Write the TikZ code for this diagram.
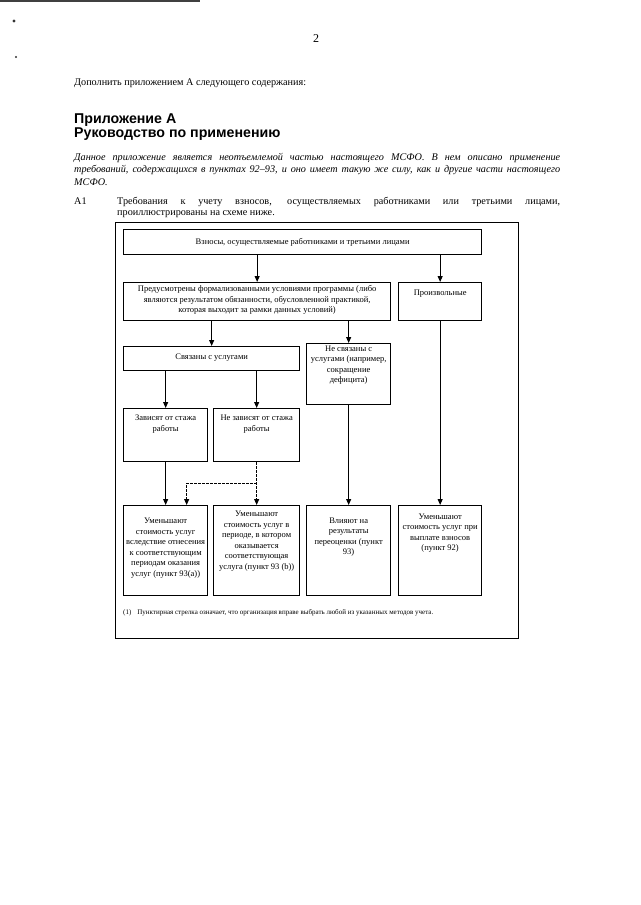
\documentclass[tikz,border=0pt]{standalone}
\usepackage{fontspec}
\setmainfont{Liberation Serif}
\newfontfamily\headfont{Liberation Sans}
\usetikzlibrary{arrows.meta}

\tikzset{
  box/.style={draw,line width=1.3pt,inner sep=0pt,anchor=north west},
  txt/.style={font=\fontsize{8.5}{10.5}\selectfont,align=center,inner sep=0pt},
  body/.style={font=\fontsize{10.2}{12}\selectfont,inner sep=0pt,anchor=base west},
  head/.style={font=\headfont\bfseries\fontsize{14.2}{15}\selectfont,inner sep=0pt,anchor=base west},
  arr/.style={-{Triangle[length=6pt,width=5pt]},line width=1pt},
  dasharr/.style={arr,dash pattern=on 2.5pt off 1.5pt}
}

\begin{document}
\begin{tikzpicture}[x=1pt,y=-1pt]
\useasboundingbox (0,0) rectangle (640,905);
% scan marks
\draw[black!75,line width=1.5pt] (0,0.75) -- (200,0.75);
\fill[black!80] (14,21) circle (1.6);
\fill[black!80] (16,57) circle (1.2);

% page text
\node[font=\fontsize{12}{14}\selectfont,inner sep=0pt,anchor=base] (pnum) at (316,42) {2};
\node[body] (intro) at (74,85) {Дополнить приложением А следующего содержания:};
\node[head] (title1) at (74,123) {Приложение А};
\node[head] (title2) at (74,137.5) {Руководство по применению};
\node[body] (par1) at (74,160) {\itshape\makebox[486pt][s]{Данное приложение является неотъемлемой частью настоящего МСФО. В нем описано применение}};
\node[body] (par2) at (74,172.5) {\itshape\makebox[486pt][s]{требований, содержащихся в пунктах 92–93, и оно имеет такую же силу, как и другие части настоящего}};
\node[body] (par3) at (74,185) {\itshape МСФО.};
\node[body] (a1) at (74,204) {A1};
\node[body] (a1l1) at (117,204) {\makebox[443pt][s]{Требования к учету взносов, осуществляемых работниками или третьими лицами,}};
\node[body] (a1l2) at (117,215) {проиллюстрированы на схеме ниже.};

% frame
\draw[line width=0.9pt] (115,222) rectangle (518,638);

% boxes
\node[box,minimum width=358pt,minimum height=25pt] (vznosy) at (123,229) {};
\node[box,minimum width=267pt,minimum height=38pt] (predusm) at (123,282) {};
\node[box,minimum width=83pt,minimum height=38pt] (proizv) at (398,282) {};
\node[box,minimum width=176pt,minimum height=24pt] (svyaz) at (123,346) {};
\node[box,minimum width=84pt,minimum height=61pt] (nesvyaz) at (306,343) {};
\node[box,minimum width=84pt,minimum height=53pt] (zavis) at (123,408) {};
\node[box,minimum width=86pt,minimum height=53pt] (nezavis) at (213,408) {};
\node[box,minimum width=84pt,minimum height=90pt] (res1) at (123,505) {};
\node[box,minimum width=86pt,minimum height=90pt] (res2) at (213,505) {};
\node[box,minimum width=84pt,minimum height=90pt] (res3) at (306,505) {};
\node[box,minimum width=83pt,minimum height=90pt] (res4) at (398,505) {};

% texts
\node[txt] (t-vznosy) at (vznosy.center) {Взносы, осуществляемые работниками и третьими лицами};
\node[txt] (t-predusm) at ([yshift=1.5pt]predusm.center) {Предусмотрены формализованными условиями программы (либо\\
  являются результатом обязанности, обусловленной практикой,\\
  которая выходит за рамки данных условий)};
\node[txt] (t-proizv) at ([yshift=-12pt]proizv.north) {Произвольные};
\node[txt] (t-svyaz) at ([yshift=1.5pt]svyaz.center) {Связаны с услугами};
\node[txt] (t-nesvyaz) at ([yshift=-22pt]nesvyaz.north) {Не связаны с\\ услугами (например,\\ сокращение\\ дефицита)};
\node[txt] (t-zavis) at ([yshift=-16pt]zavis.north) {Зависят от стажа\\ работы};
\node[txt] (t-nezavis) at ([yshift=-16pt]nezavis.north) {Не зависят от стажа\\ работы};
\node[txt] (t-res1) at ([yshift=-43pt]res1.north) {Уменьшают\\ стоимость услуг\\ вследствие отнесения\\ к соответствующим\\ периодам оказания\\ услуг (пункт 93(a))};
\node[txt] (t-res2) at ([yshift=-36pt]res2.north) {Уменьшают\\ стоимость услуг в\\ периоде, в котором\\ оказывается\\ соответствующая\\ услуга (пункт 93 (b))};
\node[txt] (t-res3) at ([yshift=-32pt]res3.north) {Влияют на\\ результаты\\ переоценки (пункт\\ 93)};
\node[txt] (t-res4) at ([yshift=-28pt]res4.north) {Уменьшают\\ стоимость услуг при\\ выплате взносов\\ (пункт 92)};
\node[font=\fontsize{7}{8}\selectfont,inner sep=0pt,anchor=west] (note) at (123,613) {(1)\hspace{6pt}Пунктирная стрелка означает, что организация вправе выбрать любой из указанных методов учета.};

% arrows
\draw[arr] (predusm.north |- vznosy.south) -- (predusm.north);
\draw[arr] (proizv.north |- vznosy.south) -- (proizv.north);
\draw[arr] (svyaz.north |- predusm.south) -- (svyaz.north);
\draw[arr] (nesvyaz.north |- predusm.south) -- (nesvyaz.north);
\draw[arr] (zavis.north |- svyaz.south) -- (zavis.north);
\draw[arr] (nezavis.north |- svyaz.south) -- (nezavis.north);
\draw[arr] (zavis.south) -- (res1.north);
\draw[dasharr] (nezavis.south) -- (res2.north);
\draw[dasharr] (nezavis.south) ++(0,21) -| ([xshift=21pt]res1.north);
\draw[arr] (nesvyaz.south) -- (res3.north);
\draw[arr] (proizv.south) -- (res4.north);
\end{tikzpicture}
\end{document}
